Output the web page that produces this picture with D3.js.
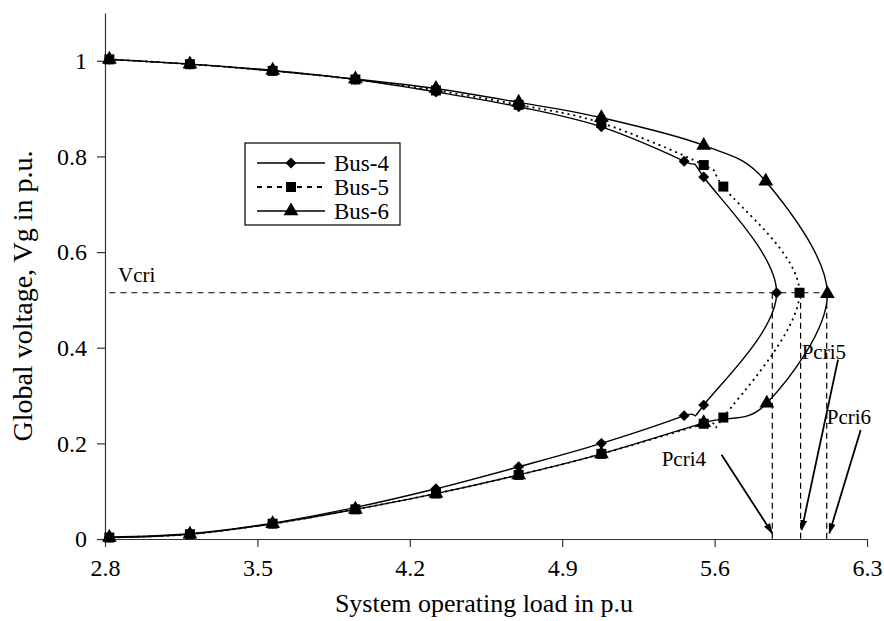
<!DOCTYPE html>
<html>
<head>
<meta charset="utf-8">
<script src="https://cdn.jsdelivr.net/npm/d3@7"></script>
<style>
  body { margin: 0; background: #fff; }
  svg { font-family: "Liberation Serif", "Times New Roman", serif; }
</style>
</head>
<body>
<svg width="884" height="621"></svg>
<script>
// load (p.u.) and voltage (p.u.) per bus, upper branch -> nose -> lower branch
var load4 = [2.82, 3.19, 3.57, 3.95, 4.32, 4.70, 5.08, 5.46, 5.55, 5.885, 5.55, 5.46, 5.08, 4.70, 4.32, 3.95, 3.57, 3.19, 2.82]
var volt4 = [1.003, 0.993, 0.979, 0.961, 0.935, 0.904, 0.862, 0.79, 0.757, 0.515, 0.28, 0.258, 0.2, 0.151, 0.105, 0.066, 0.033, 0.011, 0.004]
var load5 = [2.82, 3.19, 3.57, 3.95, 4.32, 4.70, 5.08, 5.55, 5.64, 5.99, 5.64, 5.55, 5.08, 4.70, 4.32, 3.95, 3.57, 3.19, 2.82]
var volt5 = [1.003, 0.993, 0.979, 0.961, 0.938, 0.908, 0.87, 0.782, 0.737, 0.515, 0.254, 0.241, 0.178, 0.134, 0.095, 0.062, 0.032, 0.01, 0.003]
var load6 = [2.82, 3.19, 3.57, 3.95, 4.32, 4.70, 5.08, 5.55, 5.835, 6.118, 5.84, 5.55, 5.08, 4.70, 4.32, 3.95, 3.57, 3.19, 2.82]
var volt6 = [1.003, 0.993, 0.98, 0.962, 0.942, 0.913, 0.881, 0.823, 0.748, 0.513, 0.284, 0.243, 0.178, 0.134, 0.095, 0.062, 0.032, 0.01, 0.003]

var seriesNames = ['Bus-4', 'Bus-5', 'Bus-6']
var xTicks = [2.8, 3.5, 4.2, 4.9, 5.6, 6.3]
var yTicks = [0, 0.2, 0.4, 0.6, 0.8, 1]

var vcri = 0.515
var pcri = [5.865, 5.995, 6.115]
var pcriLabels = ['Pcri4', 'Pcri5', 'Pcri6']

var svg = d3.select('svg')
var margin = { top: 13, right: 17, bottom: 82, left: 105 }
var width = Number(svg.attr('width')) - margin.left - margin.right
var height = Number(svg.attr('height')) - margin.top - margin.bottom
var g = svg.append('g')
  .attr('transform', 'translate(' + margin.left + ',' + margin.top + ')')

var x = d3.scaleLinear().domain([2.8, 6.3]).range([0, width])
var y = d3.scaleLinear().domain([0, 1.1]).range([height, 0])

var defs = svg.append('defs')
defs.append('marker')
  .attr('id', 'arrow')
  .attr('viewBox', '0 0 10 10')
  .attr('refX', 9).attr('refY', 5)
  .attr('markerWidth', 11).attr('markerHeight', 7)
  .attr('markerUnits', 'userSpaceOnUse')
  .attr('orient', 'auto')
  .attr('preserveAspectRatio', 'none')
  .append('path')
  .attr('d', 'M0,0L10,5L0,10z')
  .attr('fill', '#000')

// axes
var xAxis = g.append('g')
  .attr('transform', 'translate(0,' + height + ')')
  .call(d3.axisBottom(x).tickValues(xTicks).tickFormat(d3.format('.1f')).tickSize(8).tickSizeOuter(0).tickPadding(12))
var yAxis = g.append('g')
  .call(d3.axisLeft(y).tickValues(yTicks).tickFormat(d3.format('~g')).tickSize(8).tickSizeOuter(0).tickPadding(10))
;[xAxis, yAxis].forEach(function (a) {
  a.selectAll('path, line').attr('stroke', '#333').attr('stroke-width', 1.2)
  a.selectAll('text').attr('font-size', 24).attr('fill', '#000')
    .attr('font-family', '"Liberation Serif", "Times New Roman", serif')
})

svg.append('text')
  .attr('x', 484).attr('y', 612)
  .attr('text-anchor', 'middle')
  .attr('font-size', 26)
  .text('System operating load in p.u')

svg.append('text')
  .attr('transform', 'translate(32,296) rotate(-90)')
  .attr('text-anchor', 'middle')
  .attr('font-size', 28)
  .text('Global voltage, Vg in p.u.')

// critical lines
g.append('line')
  .attr('x1', x(2.82)).attr('x2', x(6.13))
  .attr('y1', y(vcri)).attr('y2', y(vcri))
  .attr('stroke', '#000').attr('stroke-width', 1.2).attr('stroke-dasharray', '6,5')
g.selectAll('.pcri').data(pcri).enter().append('line')
  .attr('x1', function (d) { return x(d) }).attr('x2', function (d) { return x(d) })
  .attr('y1', y(vcri)).attr('y2', y(0))
  .attr('stroke', '#000').attr('stroke-width', 1.2).attr('stroke-dasharray', '6,4')

g.append('text')
  .attr('x', x(2.86)).attr('y', y(0.538))
  .attr('font-size', 21)
  .text('Vcri')

// curves; the diamond is a square turned 45 degrees
var series = [
  { name: seriesNames[0], load: load4, volt: volt4, dash: null, sym: d3.symbolSquare, size: 60, rot: 45 },
  { name: seriesNames[1], load: load5, volt: volt5, dash: '2,4', sym: d3.symbolSquare, size: 100, rot: 0 },
  { name: seriesNames[2], load: load6, volt: volt6, dash: null, sym: d3.symbolTriangle, size: 95, rot: 0 }
]

var line = d3.line()
  .x(function (d) { return x(d[0]) })
  .y(function (d) { return y(d[1]) })
  .curve(d3.curveCardinal.tension(0))

series.forEach(function (s) {
  var pts = s.load.map(function (l, i) { return [l, s.volt[i]] })
  g.append('path')
    .datum(pts)
    .attr('fill', 'none')
    .attr('stroke', '#000')
    .attr('stroke-width', s.dash ? 1.8 : 1.4)
    .attr('stroke-dasharray', s.dash)
    .attr('d', line)
  g.selectAll(null).data(pts).enter().append('path')
    .attr('transform', function (d) { return 'translate(' + x(d[0]) + ',' + y(d[1]) + ') rotate(' + s.rot + ')' })
    .attr('d', d3.symbol().type(s.sym).size(s.size))
    .attr('fill', '#000')
})

// arrows and labels: arrow start, arrow tip near the x axis, label position
var arrowFrom = [[5.632, 0.176], [6.167, 0.375], [6.271, 0.228]]
var arrowTo = [[5.865, 0.012], [6.0, 0.019], [6.127, 0.012]]
var labelPos = [[5.357, 0.152], [6.0, 0.377], [6.115, 0.241]]
pcri.forEach(function (p, i) {
  g.append('line')
    .attr('x1', x(arrowFrom[i][0])).attr('y1', y(arrowFrom[i][1]))
    .attr('x2', x(arrowTo[i][0])).attr('y2', y(arrowTo[i][1]))
    .attr('stroke', '#000').attr('stroke-width', 1.8)
    .attr('marker-end', 'url(#arrow)')
  g.append('text')
    .attr('x', x(labelPos[i][0])).attr('y', y(labelPos[i][1]))
    .attr('font-size', 21)
    .text(pcriLabels[i])
})

// legend
var legend = svg.append('g').attr('transform', 'translate(245,143)')
legend.append('rect')
  .attr('width', 155).attr('height', 82)
  .attr('fill', '#fff').attr('stroke', '#000').attr('stroke-width', 1.2)
series.forEach(function (s, i) {
  var ly = 20 + i * 24
  legend.append('line')
    .attr('x1', 12).attr('x2', 80).attr('y1', ly).attr('y2', ly)
    .attr('stroke', '#000').attr('stroke-width', s.dash ? 1.8 : 1.4)
    .attr('stroke-dasharray', s.dash ? '5,5' : null)
  legend.append('path')
    .attr('transform', 'translate(46,' + ly + ') rotate(' + s.rot + ')')
    .attr('d', d3.symbol().type(s.sym).size(s.size))
    .attr('fill', '#000')
  legend.append('text')
    .attr('x', 89).attr('y', ly + 8)
    .attr('font-size', 23)
    .text(s.name)
})
</script>
</body>
</html>
